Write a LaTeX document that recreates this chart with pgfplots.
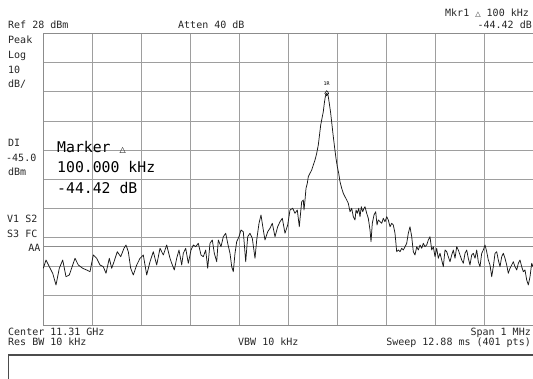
\documentclass[border=0pt]{standalone}
\usepackage{pgfplots}
\usepackage{pgfplotstable}
\pgfplotsset{compat=1.18}
\usepackage{fontspec}
\setmainfont{DejaVu Sans Mono}
\newfontfamily\symfont{DejaVu Sans}
\newcommand{\scr}{\fontsize{10}{10}\selectfont}
\newcommand{\bigscr}{\fontsize{14.8}{15}\selectfont}
\newcommand{\tri}[1]{{\symfont\fontsize{#1}{#1}\selectfont △}}

% trace read from the screen: px = horizontal pixel, py = vertical pixel (from top)
\pgfplotstableread{
px py
43.3 268.3
46 260
49.3 266.7
52.7 273.3
56 285
59.3 268.3
62.7 260
66 276.7
69.3 275
72.7 265
75 258.3
78.3 265
82.7 268.3
86.7 270
90 271.7
93.3 255
96.7 258.3
100 265
103.3 266.7
106 273.3
109.3 258.3
111.7 268.3
114 261.7
117.3 251.7
120.7 256.7
124 248.3
126 245
128.3 251.7
130.7 268.3
133.3 275
136.7 265
140 258.3
143.3 255
146.7 275
150 261.7
153.3 251.7
156.7 265
160 248.3
163.3 255
166.7 245
170 258.3
171.7 263.3
174.3 270
176.7 258.3
179 250
181.7 265
183.3 253.3
185.7 248.3
188.3 263.3
191 250
193.3 245
195.7 246.7
198.3 243.3
201 255
203.3 256.7
205.7 250
207.7 268.3
210 243.3
212.3 240
214.3 253.3
216.7 261.7
218.3 240
221 246.7
223.3 236.7
225.7 233.3
227.7 243.3
230 253.3
231.7 266.7
233.3 271.7
235 253.3
236.7 241.7
239 236.7
241 230
243.3 231.7
245.7 261.7
247.7 236.7
250 233.3
252.3 238.3
255 258.3
256.7 240
259 223.3
261 215
263.3 230
265 240
267.7 231.7
270 228.3
272.3 223.3
275 236.7
277.7 226.7
280 221.7
282.3 218.3
285 233.3
287.7 225
290 210
292.7 208.3
295 213.3
297.3 210
299.3 226.7
300.7 211.7
301.7 201.7
303.3 200
304 210
305 200
306 188.3
307.3 183.3
308.3 176.7
310 173.3
311.7 170
313.3 165
315 160
316.7 153.3
318.3 145
319.3 136.7
320.7 125
322 118.3
323.3 111.7
324.3 103.3
325.3 96.7
326.7 93.3
328 95
329.3 103.3
330.7 113.3
332 125
333.3 136.7
334.7 148.3
336 158.3
337.3 166.7
338.7 173.3
340 181.7
341.7 188.3
343.3 193.3
345 196.7
346.7 200
348.3 203.3
350 211.7
351.7 208.3
353.3 216.7
355 220
356 210
357.3 213.3
358.7 208.3
360 216.7
361.3 206.7
362.7 211.7
364 208.3
365 206.7
366.7 213.3
368.3 218.3
370 230
371 241.7
372.3 223.3
374 215
375.7 211.7
377 225
378.3 220
380 221.7
381.7 223.3
383.3 218.3
385 221.7
386.7 216.7
388.3 220
390 226.7
391.7 223.3
393.3 225
395 233.3
396.7 251.7
398.3 250
400 251.7
401.7 248.3
403.3 250
405 246.7
406.7 243.3
408.3 233.3
410 226.7
411.7 236.7
413.3 251.7
415 255
416.7 246.7
418.3 250
420 245
421.7 248.3
423.3 243.3
425 246.7
426.7 245
428.3 240
430 236.7
431.7 250
433.3 246.7
435 256.7
436.7 248.3
438.3 258.3
440 253.3
441.7 260
443.3 266.7
445 250
446.7 251.7
448.3 256.7
450 261.7
451.7 255
453.3 250
455 258.3
456.7 246.7
458.3 250
460 255
461.7 260
463.3 263.3
465 253.3
466.7 250
468.3 258.3
470 265
471.7 255
473.3 253.3
475 258.3
476.7 250
478.3 261.7
480 266.7
481.7 253.3
483.3 250
485 245
486.7 251.7
488.3 260
490 265
491.7 276.7
493.3 266.7
495 253.3
496.7 251.7
498.3 260
500 266.7
501.7 256.7
503.3 253.3
505 258.3
506.7 265
508.3 273.3
510 268.3
511.7 265
513.3 261.7
515 266.7
516.7 270
518.3 263.3
520 260
521.7 266.7
523.3 271.7
525 270
526.7 280
528.3 285
530 276.7
531.7 263.3
533 266.7
}\trace

\begin{document}
\begin{tikzpicture}[x=1pt,y=1pt]
\path[use as bounding box] (0pt,0pt) rectangle (533pt,378pt);
\clip (0pt,0pt) rectangle (533pt,378pt);
\begin{axis}[
  at={(43pt,53pt)}, anchor=south west,
  scale only axis, width=490pt, height=291.5pt,
  xmin=-500, xmax=500, ymin=-72, ymax=28,
  xtick={-500,-400,...,500}, ytick={-72,-62,...,28},
  xticklabels={}, yticklabels={},
  major tick length=0pt,
  grid=major,
  major grid style={black!38, line width=0.75pt},
  axis line style={black!45, line width=0.9pt},
  clip=true,
]
\addplot[black!45, line width=0.9pt] coordinates {(-500,-45) (500,-45)};
\addplot[black!90, line width=0.75pt, line join=round] table[
  x expr={(\thisrow{px}-288)*2.040816},
  y expr={28-(\thisrow{py}-33.5)*0.343053}] {\trace};
\addplot[only marks, mark=diamond, mark size=2.6pt,
  mark options={black, line width=0.5pt, fill=white}] coordinates {(79,7.5)};
\node[font=\fontsize{5}{5}\selectfont, inner sep=0pt, anchor=south] at (axis cs:79,10.2) {1R};
\end{axis}

\begin{scope}[every node/.style={inner sep=0pt, text=black!85, font=\scr}]
\node[anchor=base west] at (8pt,349.5pt) {Ref 28 dBm};
\node[anchor=base west] at (178pt,349.5pt) {Atten 40 dB};
\node[anchor=base west] at (445pt,361pt) {Mkr1 \tri{7} 100 kHz};
\node[anchor=base east] at (532pt,349.5pt) {-44.42 dB};
\node[anchor=base west] at (8pt,334.5pt) {Peak};
\node[anchor=base west] at (8pt,319.5pt) {Log};
\node[anchor=base west] at (8pt,304.5pt) {10};
\node[anchor=base west] at (8pt,290.5pt) {dB/};
\node[anchor=base west] at (8pt,231.5pt) {DI};
\node[anchor=base west] at (6pt,216.5pt) {-45.0};
\node[anchor=base west] at (8pt,202pt) {dBm};
\node[anchor=base west] at (7pt,155pt) {V1 S2};
\node[anchor=base west] at (7pt,140.5pt) {S3 FC};
\node[anchor=base east] at (40.5pt,126pt) {AA};
\node[anchor=base west] at (8pt,43pt) {Center 11.31 GHz};
\node[anchor=base east] at (531pt,43pt) {Span 1 MHz};
\node[anchor=base west] at (8pt,32.5pt) {Res BW 10 kHz};
\node[anchor=base west] at (238pt,32.5pt) {VBW 10 kHz};
\node[anchor=base east] at (531pt,32.5pt) {Sweep 12.88 ms (401 pts)};
\end{scope}
\begin{scope}[every node/.style={inner sep=0pt, text=black, font=\bigscr}]
\node[anchor=base west] at (57pt,225.5pt) {Marker \tri{8}};
\node[anchor=base west] at (57pt,205pt) {100.000 kHz};
\node[anchor=base west] at (57pt,184pt) {-44.42 dB};
\end{scope}
\draw[black!40, line width=0.8pt] (8.5pt,-5pt) rectangle (545pt,23.5pt);
\draw[black!70, line width=1.3pt] (8.8pt,-5pt) -- (8.8pt,23pt) -- (545pt,23pt);
\end{tikzpicture}
\end{document}
